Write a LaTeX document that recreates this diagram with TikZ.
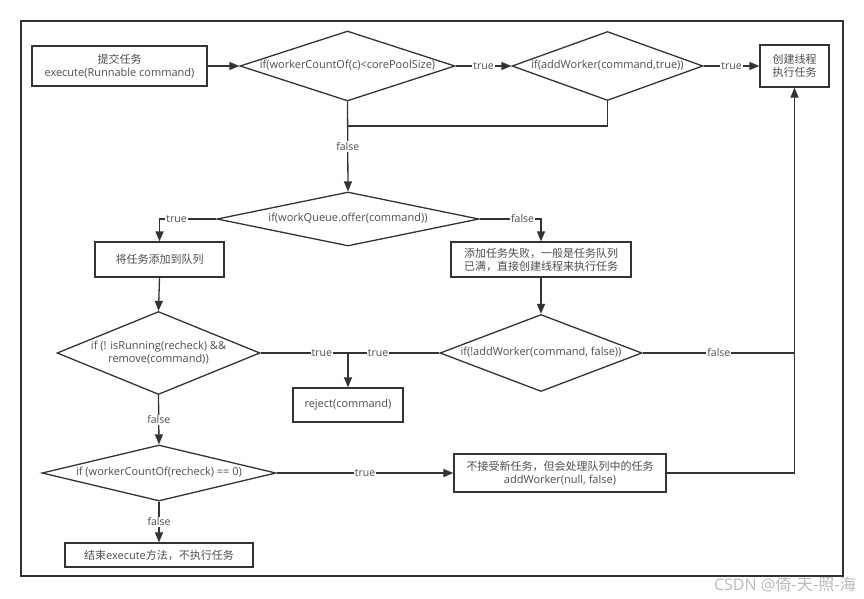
\documentclass[tikz,border=0pt]{standalone}
\usepackage{fontspec}
\setmainfont{Open Sans}
\newfontfamily\cjk{Noto Sans CJK SC}
\usepackage{xcolor}
\definecolor{ink}{HTML}{333333}
\definecolor{txt}{HTML}{4D4D4D}
\usepackage{tikz}
\usetikzlibrary{positioning,arrows.meta,shapes.geometric}
\newcommand{\dlabel}[1]{\makebox[0pt]{\begin{tabular}{@{}c@{}}#1\end{tabular}}}

\tikzset{
  box/.style={draw=ink, line width=1.3pt, rectangle, inner sep=2pt, align=center, text=txt, font=\fontsize{11}{13}\selectfont},
  decision/.style={draw=ink, line width=1.3pt, diamond, inner sep=0pt, text=txt, font=\fontsize{11}{13}\selectfont},
  flow/.style={draw=ink, line width=1.3pt, -{Triangle[length=10pt,width=8pt]}},
  link/.style={draw=ink, line width=1.3pt},
  lbl/.style={fill=white, inner sep=1pt, text=txt, font=\fontsize{10.5}{12}\selectfont},
}

\begin{document}
\begin{tikzpicture}[x=1pt,y=-1pt]
\useasboundingbox (0,0) rectangle (864,598);
\draw[draw=ink, line width=1.3pt] (21,21) rectangle (843,576); %%% outer frame

%%% first row
\node[box, minimum width=175pt, minimum height=40pt] (submit) at (119.5,66) {{\cjk 提交任务}\\execute(Runnable command)};
\node[decision, minimum width=215pt, minimum height=70pt] (cond1) at (347.5,66) {\dlabel{if(workerCountOf(c)<corePoolSize)}};
\node[decision, minimum width=191pt, minimum height=69pt] (cond2) at (607.5,66) {\dlabel{if(addWorker(command,true))}};
\node[box, minimum width=69pt, minimum height=42pt] (create) at (794.5,66) {{\cjk 创建线程}\\{\cjk 执行任务}};

%%% queue
\node[decision, minimum width=262pt, minimum height=54pt] (cond3) at (348,219) {\dlabel{if(workQueue.offer(command))}};
\node[box, minimum width=129pt, minimum height=35pt] (enqueue) at (159.5,259.5) {{\cjk 将任务添加到队列}};
\node[box, minimum width=180pt, minimum height=35pt] (fail) at (541,259.5) {{\cjk 添加任务失败，一般是任务队列}\\{\cjk 已满，直接创建线程来执行任务}};

%%% recheck
\node[decision, minimum width=203pt, minimum height=83pt] (cond4) at (158.5,353) {\dlabel{if (! isRunning(recheck) \&\&\\remove(command))}};
\node[decision, minimum width=202pt, minimum height=77pt] (cond5) at (541,353) {\dlabel{if(!addWorker(command, false))}};
\node[box, minimum width=110pt, minimum height=34pt] (reject) at (348,405) {reject(command)};
\node[decision, minimum width=234pt, minimum height=56pt] (cond6) at (159,473) {\dlabel{if (workerCountOf(recheck) == 0)}};
\node[box, minimum width=212pt, minimum height=38pt] (nonew) at (560,473) {{\cjk 不接受新任务，但会处理队列中的任务}\\addWorker(null, false)};
\node[box, minimum width=188pt, minimum height=24pt] (finish) at (159,555) {{\cjk 结束}execute{\cjk 方法，不执行任务}};

\coordinate (back) at (348,126);
\coordinate (split) at (348,353);
\coordinate (retry) at (795,353);

%%% connectors
\draw[flow] (submit.east) -- (cond1.west);
\draw[flow] (cond1.east) -- node[lbl]{true} (cond2.west);
\draw[flow] (cond2.east) -- node[lbl]{true} (create.west);
\draw[link] (cond2.south) |- (back);
\draw[flow] (cond1.south) -- node[lbl]{false} (cond3.north);
\draw[flow] (cond3.west) -| node[lbl,pos=0.35]{true} (enqueue.north);
\draw[flow] (cond3.east) -| node[lbl,pos=0.35]{false} (fail.north);
\draw[flow] (enqueue.south) -- (cond4.north);
\draw[flow] (fail.south) -- (cond5.north);
\draw[link] (cond4.east) -- node[lbl,pos=0.7]{true} (split);
\draw[link] (cond5.west) -- node[lbl,pos=0.67]{true} (split);
\draw[flow] (split) -- (reject.north);
\draw[link] (cond5.east) -- node[lbl]{false} (retry);
\draw[flow] (nonew.east) -| (create.south);
\draw[flow] (cond4.south) -- node[lbl]{false} (cond6.north);
\draw[flow] (cond6.east) -- node[lbl]{true} (nonew.west);
\draw[flow] (cond6.south) -- node[lbl]{false} (finish.north);

\node[text=gray!55, font=\fontsize{16}{18}\selectfont] (mark) at (785,584) {CSDN @{\cjk 倚-天-照-海}};
\end{tikzpicture}
\end{document}
